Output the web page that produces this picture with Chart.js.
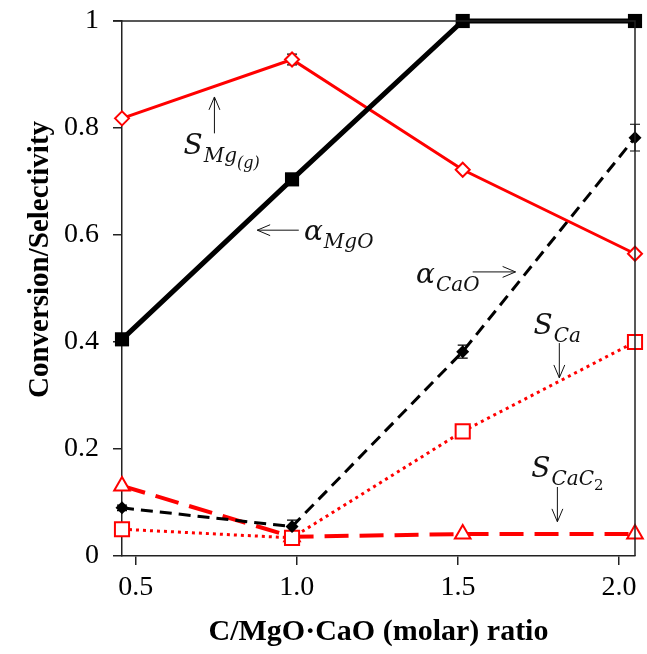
<!DOCTYPE html>
<html>
<head>
<meta charset="utf-8">
<script src="https://cdn.jsdelivr.net/npm/chart.js@4.4.0/dist/chart.umd.min.js"></script>
<style>
html, body { margin: 0; padding: 0; background: #fff; }
#wrap { width: 647px; height: 654px; }
</style>
</head>
<body>
<div id="wrap"><canvas id="myChart"></canvas></div>
<script>
// values
var ratio = [0.457, 0.985, 1.515, 2.05];
var alphaMgO = [0.405, 0.704, 1.0, 1.0];
var selMg = [0.818, 0.928, 0.722, 0.565];
var selMgErr = [0.005, 0.01, 0, 0];
var alphaCaO = [0.090, 0.055, 0.382, 0.782];
var alphaCaOErr = [0.005, 0.012, 0.012, 0.025];
var selCa = [0.050, 0.034, 0.233, 0.400];
var selCaC2 = [0.131, 0.036, 0.041, 0.041];
var xTicks = [0.5, 1.0, 1.5, 2.0];

function pts(ys) {
    var out = [];
    for (var i = 0; i < ratio.length; i++) out.push({ x: ratio[i], y: ys[i] });
    return out;
}

// labels with arrows, placed in data units
var notes = [
    { parts: [['S', 0], ['Mg', 1], ['(g)', 2]], x: 0.648, y: 0.752, ax: [0.744, 0.79, 0.744, 0.858] },
    { parts: [['\u03b1', 0], ['MgO', 1]], x: 1.022, y: 0.59, ax: [1.006, 0.609, 0.877, 0.609] },
    { parts: [['\u03b1', 0], ['CaO', 1]], x: 1.37, y: 0.51, ax: [1.546, 0.531, 1.679, 0.531] },
    { parts: [['S', 0], ['Ca', 1]], x: 1.735, y: 0.415, ax: [1.815, 0.398, 1.815, 0.333] },
    { parts: [['S', 0], ['CaC', 1], ['2', 3]], x: 1.728, y: 0.148, ax: [1.809, 0.129, 1.809, 0.064] }
];

const extras = {
    id: 'extras',
    beforeDatasetsDraw(chart) {
        var ctx = chart.ctx, xs = chart.scales.x, ys = chart.scales.y;
        ctx.save();
        ctx.strokeStyle = '#000';
        ctx.lineWidth = 1.2;
        [[alphaCaO, alphaCaOErr], [selMg, selMgErr]].forEach(function (s) {
            for (var i = 0; i < ratio.length; i++) {
                if (!s[1][i]) continue;
                var px = xs.getPixelForValue(ratio[i]);
                var y1 = ys.getPixelForValue(s[0][i] + s[1][i]);
                var y2 = ys.getPixelForValue(s[0][i] - s[1][i]);
                ctx.beginPath();
                ctx.moveTo(px, y1); ctx.lineTo(px, y2);
                ctx.moveTo(px - 5, y1); ctx.lineTo(px + 5, y1);
                ctx.moveTo(px - 5, y2); ctx.lineTo(px + 5, y2);
                ctx.stroke();
            }
        });
        ctx.restore();
    },
    afterDraw(chart) {
        var ctx = chart.ctx, a = chart.chartArea, xs = chart.scales.x, ys = chart.scales.y;
        ctx.save();
        ctx.strokeStyle = '#222';
        ctx.lineWidth = 1.5;
        ctx.beginPath();
        ctx.moveTo(a.left - 9, a.top); ctx.lineTo(a.right, a.top); ctx.lineTo(a.right, a.bottom);
        ctx.stroke();

        var sizes = [28, 20, 16, 15];
        var drops = [0, 8, 14, 13];
        ctx.fillStyle = '#111';
        ctx.textBaseline = 'alphabetic';
        notes.forEach(function (n) {
            var px = xs.getPixelForValue(n.x), py = ys.getPixelForValue(n.y);
            n.parts.forEach(function (p) {
                var lvl = p[1];
                ctx.font = (lvl == 3 ? '' : 'italic ') + sizes[lvl] + 'px "DejaVu Serif"';
                ctx.fillText(p[0], px, py + drops[lvl]);
                px += ctx.measureText(p[0]).width + (lvl == 0 ? 1 : 0);
            });
            var x1 = xs.getPixelForValue(n.ax[0]), y1 = ys.getPixelForValue(n.ax[1]);
            var x2 = xs.getPixelForValue(n.ax[2]), y2 = ys.getPixelForValue(n.ax[3]);
            var ang = Math.atan2(y2 - y1, x2 - x1);
            ctx.strokeStyle = '#111';
            ctx.lineWidth = 1;
            ctx.beginPath();
            ctx.moveTo(x1, y1); ctx.lineTo(x2, y2);
            ctx.moveTo(x2 - 14 * Math.cos(ang - 0.4), y2 - 14 * Math.sin(ang - 0.4));
            ctx.lineTo(x2, y2);
            ctx.lineTo(x2 - 14 * Math.cos(ang + 0.4), y2 - 14 * Math.sin(ang + 0.4));
            ctx.stroke();
        });
        ctx.restore();
    }
};

const config = {
    type: 'line',
    data: {
        datasets: [{
            label: 'S Mg(g)',
            data: pts(selMg),
            borderColor: '#ff0000', borderWidth: 3,
            pointStyle: 'rectRot', pointRadius: 7, pointBorderWidth: 2,
            pointBackgroundColor: '#fff', pointBorderColor: '#ff0000',
            clip: false, order: 2
        }, {
            label: 'alpha MgO',
            data: pts(alphaMgO),
            borderColor: '#000', borderWidth: 5,
            pointStyle: 'rect', pointRadius: 10, pointBorderWidth: 0,
            pointBackgroundColor: '#000', pointBorderColor: '#000',
            clip: false, order: 1
        }, {
            label: 'alpha CaO',
            data: pts(alphaCaO),
            borderColor: '#000', borderWidth: 3, borderDash: [12, 7],
            pointStyle: 'rectRot', pointRadius: 6.5, pointBorderWidth: 0,
            pointBackgroundColor: '#000', pointBorderColor: '#000',
            clip: false, order: 3
        }, {
            label: 'S Ca',
            data: pts(selCa),
            borderColor: '#ff0000', borderWidth: 3, borderDash: [3, 4],
            pointStyle: 'rect', pointRadius: 10, pointBorderWidth: 2,
            pointBackgroundColor: '#fff', pointBorderColor: '#ff0000',
            clip: false, order: 4
        }, {
            label: 'S CaC2',
            data: pts(selCaC2),
            borderColor: '#ff0000', borderWidth: 4, borderDash: [24, 11],
            pointStyle: 'triangle', pointRadius: 9, pointBorderWidth: 2,
            pointBackgroundColor: '#fff', pointBorderColor: '#ff0000',
            clip: false, order: 5
        }]
    },
    options: {
        responsive: true, maintainAspectRatio: false,
        animation: false,
        layout: { padding: { top: 21, right: 7, left: 0, bottom: 0 } },
        plugins: { legend: { display: false }, tooltip: { enabled: false } },
        scales: {
            x: {
                type: 'linear', min: 0.457, max: 2.05,
                afterBuildTicks: function (s) { s.ticks = xTicks.map(function (v) { return { value: v }; }); },
                afterFit: function (s) { s.height = 98; s.paddingLeft = 0; s.paddingRight = 0; },
                grid: { display: true, drawOnChartArea: false, drawTicks: true, tickLength: 9, color: '#222', lineWidth: 1.5 },
                border: { display: true, color: '#222', width: 1.5 },
                ticks: {
                    color: '#000', padding: 6, maxRotation: 0,
                    font: { family: '"Liberation Serif"', size: 28 },
                    callback: function (v) { return Number(v).toFixed(1); }
                },
                title: {
                    display: true, text: 'C/MgO\u00b7CaO (molar) ratio', color: '#000',
                    font: { family: '"Liberation Serif"', size: 30, weight: 'bold' },
                    padding: { top: 0, bottom: 4 }
                }
            },
            y: {
                min: 0, max: 1,
                afterFit: function (s) { s.width = 122; s.paddingTop = 0; s.paddingBottom = 0; },
                grid: { display: true, drawOnChartArea: false, drawTicks: true, tickLength: 9, color: '#222', lineWidth: 1.5 },
                border: { display: true, color: '#222', width: 1.5 },
                ticks: {
                    stepSize: 0.2, color: '#000', padding: 14,
                    font: { family: '"Liberation Serif"', size: 28 },
                    callback: function (v) { return String(Number(v.toFixed(1))); }
                },
                title: {
                    display: true, text: '\u2002\u2002\u2002\u2002Conversion/Selectivity', color: '#000',
                    font: { family: '"Liberation Serif"', size: 29, weight: 'bold' },
                    padding: { top: 23, bottom: 0 }
                }
            }
        }
    },
    plugins: [extras]
};

var myChart = new Chart(document.getElementById('myChart'), config);
</script>
</body>
</html>
